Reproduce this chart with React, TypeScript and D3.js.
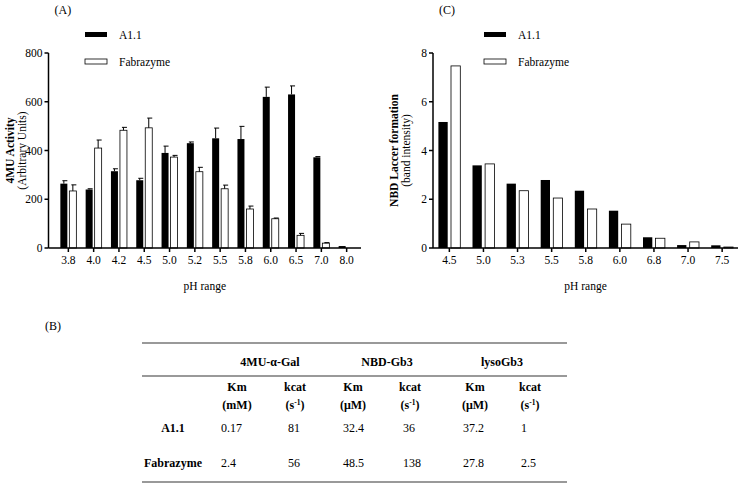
import React from 'react';
import * as d3 from 'd3';

// Panel A: 4MU activity by pH
const phA = ['3.8', '4.0', '4.2', '4.5', '5.0', '5.2', '5.5', '5.8', '6.0', '6.5', '7.0', '8.0'];
const a11A = [264, 240, 315, 278, 390, 430, 450, 447, 620, 630, 372, 8];
const a11AErr = [12, 3, 10, 8, 28, 5, 42, 52, 40, 35, 3, 0];
const fabA = [234, 410, 483, 493, 373, 313, 243, 160, 120, 52, 20, 0];
const fabAErr = [25, 33, 12, 40, 7, 18, 15, 12, 3, 8, 2, 0];
const ticksA = [0, 200, 400, 600, 800];

// Panel C: NBD Laccer formation by pH
const phC = ['4.5', '5.0', '5.3', '5.5', '5.8', '6.0', '6.8', '7.0', '7.5'];
const a11C = [5.17, 3.39, 2.64, 2.79, 2.35, 1.53, 0.44, 0.12, 0.11];
const fabC = [7.47, 3.45, 2.35, 2.05, 1.6, 0.98, 0.4, 0.25, 0.04];
const ticksC = [0, 2, 4, 6, 8];

// Panel B: kinetics table
const substrates = ['4MU-α-Gal', 'NBD-Gb3', 'lysoGb3'];
const units = ['(mM)', '(s-1)', '(μM)', '(s-1)', '(μM)', '(s-1)'];
const enzymes = ['A1.1', 'Fabrazyme'];
const valuesA11 = ['0.17', '81', '32.4', '36', '37.2', '1'];
const valuesFab = ['2.4', '56', '48.5', '138', '27.8', '2.5'];

const FONT = "'Liberation Serif', 'DejaVu Serif', serif";

type PanelProps = {
  cats: string[];
  black: number[];
  white: number[];
  blackErr?: number[];
  whiteErr?: number[];
  ticks: number[];
  yMax: number;
  axisX: number;
  axisEnd: number;
  bandStart: number;
  step: number;
  barW: number;
  gap: number;
  letter: string;
  yTitle: string;
  ySub: string;
  legendX: number;
};

function Panel(p: PanelProps) {
  const top = 53;
  const bottom = 248;
  const x = d3.scaleBand<string>()
    .domain(p.cats)
    .range([p.bandStart, p.bandStart + p.step * p.cats.length]);
  const y = d3.scaleLinear().domain([0, p.yMax]).range([bottom, top]);
  const center = (c: string) => (x(c) as number) + x.bandwidth() / 2;
  const midY = (top + bottom) / 2;

  const errBar = (cx: number, v: number, e: number, key: string) => {
    if (!e) return null;
    const yt = y(v + e);
    return (
      <g key={key} stroke="#000" strokeWidth={1}>
        <line x1={cx} x2={cx} y1={y(v)} y2={yt} />
        <line x1={cx - 1.5} x2={cx + 3.5} y1={yt} y2={yt} />
      </g>
    );
  };

  return (
    <g style={{ fontFamily: FONT }}>
      <text x={p.axisX + 6} y={14} fontSize={12}>{p.letter}</text>
      {/* legend */}
      <rect x={p.legendX} y={32} width={22} height={5} fill="#000" />
      <text x={p.legendX + 34} y={39} fontSize={11.5}>A1.1</text>
      <rect x={p.legendX} y={59} width={22} height={5} fill="#fff" stroke="#000" strokeWidth={0.8} />
      <text x={p.legendX + 34} y={66} fontSize={11.5}>Fabrazyme</text>

      {/* bars */}
      {p.cats.map((c, i) => {
        const cx = center(c);
        const bx = cx - p.gap / 2 - p.barW;
        const wx = cx + p.gap / 2;
        return (
          <g key={c}>
            <rect x={bx} y={y(p.black[i])} width={p.barW} height={bottom - y(p.black[i])} fill="#000" />
            {p.white[i] > 0 && (
              <rect x={wx} y={y(p.white[i])} width={p.barW} height={bottom - y(p.white[i])}
                fill="#fff" stroke="#000" strokeWidth={0.8} />
            )}
            {p.blackErr && errBar(bx + p.barW / 2, p.black[i], p.blackErr[i], 'be')}
            {p.whiteErr && errBar(wx + p.barW / 2, p.white[i], p.whiteErr[i], 'we')}
          </g>
        );
      })}

      {/* y axis */}
      <line x1={p.axisX} x2={p.axisX} y1={top} y2={bottom} stroke="#000" strokeWidth={1.5} />
      {p.ticks.map(t => (
        <g key={t}>
          <line x1={p.axisX - 4} x2={p.axisX} y1={y(t)} y2={y(t)} stroke="#000" strokeWidth={1.5} />
          <text x={p.axisX - 6} y={y(t)} dy="0.35em" textAnchor="end" fontSize={11.5}>{t}</text>
        </g>
      ))}

      {/* x axis */}
      <line x1={p.axisX} x2={p.axisEnd} y1={bottom} y2={bottom} stroke="#000" strokeWidth={1.5} />
      {p.cats.map(c => (
        <g key={c}>
          <line x1={center(c)} x2={center(c)} y1={bottom} y2={bottom + 4} stroke="#000" strokeWidth={1.5} />
          <text x={center(c)} y={bottom + 16} textAnchor="middle" fontSize={11.5}>{c}</text>
        </g>
      ))}
      <text x={(p.axisX + p.axisEnd) / 2} y={290} textAnchor="middle" fontSize={11.5}>pH range</text>

      {/* y titles */}
      <text transform={`translate(${p.axisX - 35},${midY}) rotate(-90)`} textAnchor="middle"
        fontSize={11.5} fontWeight="bold">{p.yTitle}</text>
      <text transform={`translate(${p.axisX - 23},${midY}) rotate(-90)`} textAnchor="middle"
        fontSize={11.5}>{p.ySub}</text>
    </g>
  );
}

function KineticsTable() {
  const left = 142;
  const right = 567;
  const subCenters = [237, 295, 353, 410, 475, 530];
  const valueX = [221, 288, 343, 403, 463, 521];
  const headCenters = [270, 387, 502];
  const rowY = [432, 467];
  const rowVals = [valuesA11, valuesFab];
  return (
    <g style={{ fontFamily: FONT }} fontSize={12}>
      <text x={45} y={330} fontSize={12}>(B)</text>
      <line x1={left} x2={right} y1={343} y2={343} stroke="#777" strokeWidth={1.5} />
      <line x1={left} x2={right} y1={376} y2={376} stroke="#777" strokeWidth={1.5} />
      <line x1={left} x2={right} y1={482} y2={482} stroke="#777" strokeWidth={1.5} />
      {substrates.map((s, i) => (
        <text key={s} x={headCenters[i]} y={366} textAnchor="middle" fontWeight="bold">{s}</text>
      ))}
      {units.map((u, i) => (
        <g key={i} fontWeight="bold" textAnchor="middle">
          <text x={subCenters[i]} y={391}>{i % 2 === 0 ? 'Km' : 'kcat'}</text>
          <text x={subCenters[i]} y={409}>
            {u === '(s-1)' ? (<>(s<tspan dy={-4} fontSize={7.5}>-1</tspan><tspan dy={4}>)</tspan></>) : u}
          </text>
        </g>
      ))}
      {enzymes.map((e, r) => (
        <g key={e}>
          <text x={173} y={rowY[r]} textAnchor="middle" fontWeight="bold">{e}</text>
          {rowVals[r].map((v, i) => (
            <text key={i} x={valueX[i]} y={rowY[r]}>{v}</text>
          ))}
        </g>
      ))}
    </g>
  );
}

export default function App() {
  return (
    <svg width={745} height={483} style={{ position: 'absolute', left: 0, top: 0, background: '#fff' }}>
      <rect width={745} height={483} fill="#fff" />
      <Panel cats={phA} black={a11A} white={fabA} blackErr={a11AErr} whiteErr={fabAErr}
        ticks={ticksA} yMax={800} axisX={48.5} axisEnd={361} bandStart={55.7} step={25.3}
        barW={7} gap={2} letter="(A)" yTitle="4MU Activity" ySub="(Arbitrary Units)" legendX={85} />
      <Panel cats={phC} black={a11C} white={fabC}
        ticks={ticksC} yMax={8} axisX={433} axisEnd={738} bandStart={432.3} step={34.1}
        barW={9.3} gap={3.3} letter="(C)" yTitle="NBD Laccer formation" ySub="(band intensity)" legendX={484} />
      <KineticsTable />
    </svg>
  );
}
